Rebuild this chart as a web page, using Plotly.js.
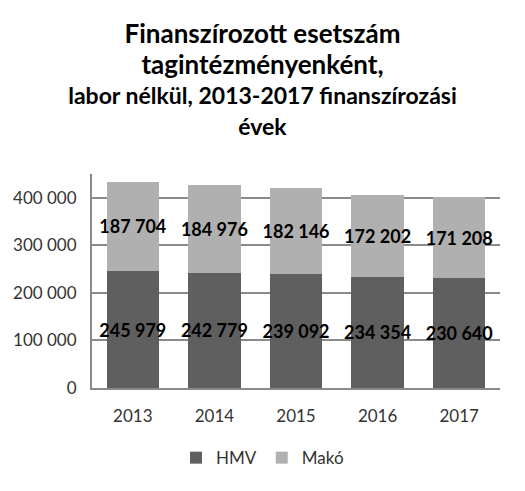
<!DOCTYPE html>
<html>
<head>
<meta charset="utf-8">
<script src="https://cdn.plot.ly/plotly-3.0.1.min.js"></script>
<style>
  html, body { margin: 0; padding: 0; background: #fff; }
  #chart { width: 525px; height: 491px; }
</style>
</head>
<body>
<div id="chart"></div>
<script>
// years and case counts
var years = ['2013', '2014', '2015', '2016', '2017']
var hmv = [245979, 242779, 239092, 234354, 230640]
var mako = [187704, 184976, 182146, 172202, 171208]
var seriesNames = ['HMV', 'Makó']

var labelFont = { family: 'Lato, sans-serif', size: 18, color: '#000', weight: 'bold' }

var data = [
  {
    x: years,
    y: hmv,
    name: seriesNames[0],
    type: 'bar',
    marker: { color: '#5f5f5f' },
    texttemplate: '%{y:,}',
    textposition: 'inside',
    insidetextanchor: 'middle',
    constraintext: 'none',
    textangle: 0,
    textfont: labelFont,
    hoverinfo: 'skip'
  },
  {
    x: years,
    y: mako,
    name: seriesNames[1],
    type: 'bar',
    marker: { color: '#b0b0b0' },
    texttemplate: '%{y:,}',
    textposition: 'inside',
    insidetextanchor: 'middle',
    constraintext: 'none',
    textangle: 0,
    textfont: labelFont,
    hoverinfo: 'skip'
  }
]

var layout = {
  width: 525,
  height: 491,
  margin: { l: 92, r: 25, t: 174, b: 103 },
  paper_bgcolor: '#fff',
  plot_bgcolor: '#fff',
  barmode: 'stack',
  bargap: 0.36,
  separators: ', ',
  font: { family: 'Lato, sans-serif', color: '#333' },
  title: {
    // base size sets the line spacing, spans set the glyph size
    text: '<span style="font-size:26px">Finanszírozott esetszám</span><br>' +
      '<span style="font-size:26px">tagintézményenként,</span><br>' +
      '<span style="font-size:23px">labor nélkül, 2013-2017 finanszírozási</span><br>' +
      '<span style="font-size:23px">évek</span>',
    font: { family: 'Lato, sans-serif', size: 23.5, color: '#000', weight: 'bold' },
    x: 0.5,
    xref: 'container',
    y: 0.912,
    yref: 'container',
    yanchor: 'top'
  },
  xaxis: {
    type: 'category',
    showline: true,
    linecolor: '#8a8a8a',
    linewidth: 2,
    ticks: '',
    tickfont: { size: 17, color: '#333' },
    ticklabelstandoff: 12
  },
  yaxis: {
    range: [0, 450000],
    tickvals: [0, 100000, 200000, 300000, 400000],
    tickformat: ',',
    showline: true,
    linecolor: '#8a8a8a',
    linewidth: 2,
    showgrid: true,
    gridcolor: '#8a8a8a',
    gridwidth: 2,
    zeroline: false,
    ticks: '',
    tickfont: { size: 17, color: '#333' },
    ticklabelstandoff: 10
  },
  legend: {
    orientation: 'h',
    traceorder: 'normal',
    xref: 'container',
    yref: 'container',
    x: 0.5,
    xanchor: 'center',
    y: 0.067,
    yanchor: 'middle',
    font: { size: 17, color: '#333' }
  },
  showlegend: true
}

Plotly.newPlot('chart', data, layout, { displayModeBar: false, staticPlot: true })
</script>
</body>
</html>
